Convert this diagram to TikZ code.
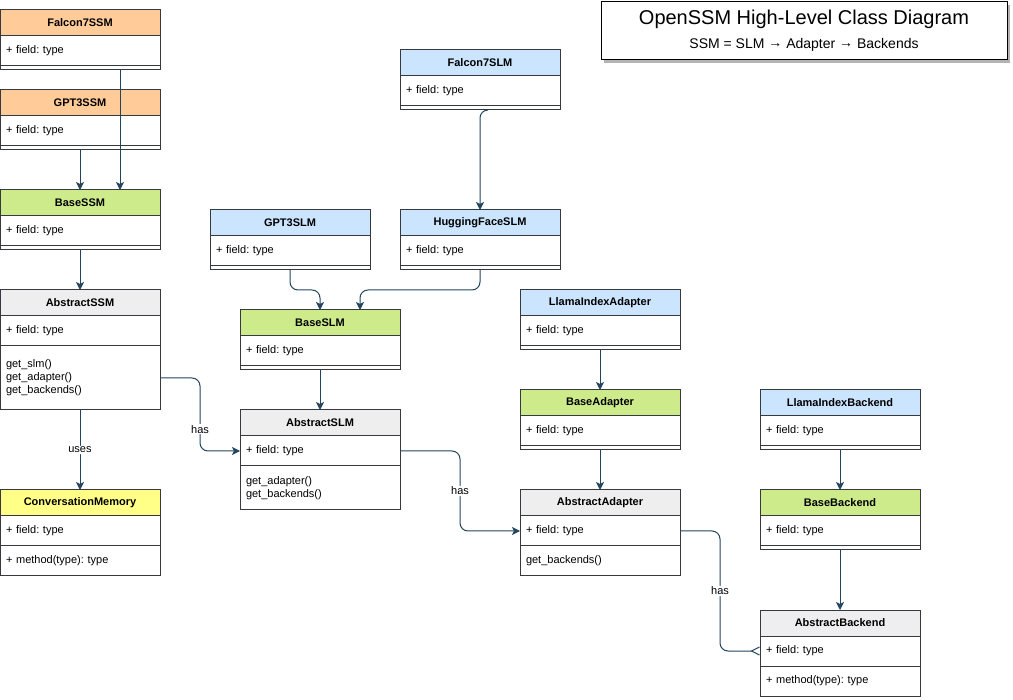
\documentclass[tikz,border=0pt]{standalone}
\usepackage{fontspec}
\setmainfont{Liberation Sans}
\frenchspacing
\usepackage{tikz}
\usetikzlibrary{arrows.meta,shadows}

\definecolor{ssmc}{HTML}{FFCC99}
\definecolor{slmc}{HTML}{CCE5FF}
\definecolor{basec}{HTML}{CDEB8B}
\definecolor{absc}{HTML}{EEEEEE}
\definecolor{memc}{HTML}{FFFF88}
\definecolor{edgec}{HTML}{36393D}
\definecolor{linkc}{HTML}{23445D}

\tikzset{
    classhead/.style={
           rectangle,
           draw=edgec, line width=1pt,
           minimum width=160pt,
           minimum height=26pt,
           inner sep=0pt, outer sep=0pt,
           anchor=north west,
           font=\fontsize{11}{13}\selectfont\bfseries,
           },
    classbody/.style={
           rectangle,
           draw=edgec, line width=1pt,
           fill=white,
           minimum width=160pt,
           text width=148pt,
           inner xsep=6pt, inner ysep=1pt, outer sep=0pt,
           align=left,
           anchor=north west,
           font=\fontsize{11}{13}\selectfont,
           },
    link/.style={
           draw=linkc, line width=1pt,
           rounded corners=8pt,
           -{Stealth[length=8pt,width=8pt,inset=2pt]},
           },
    linklabel/.style={
           fill=white, inner sep=1pt,
           font=\fontsize{11}{13}\selectfont,
           },
}

% class box: name, x, y, header colour, methods, methods height
\newcommand{\umlclass}[6]{
    \node[classhead, fill=#4] (#1) at (#2,#3) {#1};
    \node[classbody, minimum height=30pt] (#1-f) at (#1.south west) {+ field: type};
    \node[classbody, minimum height=#6pt] (#1-m) at (#1-f.south west) {#5};
}
\newcommand{\toarrow}{\raisebox{1pt}{→}}

\begin{document}
\begin{tikzpicture}[x=1pt, y=-1pt]
    \useasboundingbox (0,0) rectangle (1013,700);

    % title
    \node[draw=black, line width=1pt, fill=white,
    minimum width=406pt, minimum height=58pt,
    drop shadow={opacity=0.6, fill=gray, shadow xshift=3pt, shadow yshift=-3pt},
    align=center] (title) at (804,31)
    {{\fontsize{20}{24}\selectfont OpenSSM High-Level Class Diagram}\\[9pt]
     {\fontsize{14}{16}\selectfont SSM = SLM \toarrow{} Adapter \toarrow{} Backends}};

    % SSM column
    \umlclass{Falcon7SSM}{0}{10}{ssmc}{}{4}
    \umlclass{GPT3SSM}{0}{90}{ssmc}{}{4}
    \umlclass{BaseSSM}{0}{190}{basec}{}{4}
    \umlclass{AbstractSSM}{0}{290}{absc}{get\_slm()\\get\_adapter()\\get\_backends()}{64}
    \umlclass{ConversationMemory}{0}{490}{memc}{+ method(type): type}{30}

    % SLM column
    \umlclass{Falcon7SLM}{400}{50}{slmc}{}{4}
    \umlclass{GPT3SLM}{210}{210}{slmc}{}{4}
    \umlclass{HuggingFaceSLM}{400}{210}{slmc}{}{4}
    \umlclass{BaseSLM}{240}{310}{basec}{}{4}
    \umlclass{AbstractSLM}{240}{410}{absc}{get\_adapter()\\get\_backends()}{44}

    % adapters
    \umlclass{LlamaIndexAdapter}{520}{290}{slmc}{}{4}
    \umlclass{BaseAdapter}{520}{390}{basec}{}{4}
    \umlclass{AbstractAdapter}{520}{490}{absc}{get\_backends()}{30}

    % backends
    \umlclass{LlamaIndexBackend}{760}{390}{slmc}{}{4}
    \umlclass{BaseBackend}{760}{490}{basec}{}{4}
    \umlclass{AbstractBackend}{760}{610}{absc}{+ method(type): type}{30}

    % inheritance links
    \draw[link] ([xshift=40pt]Falcon7SSM-m.south) -- ([xshift=40pt]BaseSSM.north);
    \draw[link] (GPT3SSM-m.south) -- (BaseSSM.north);
    \draw[link] (BaseSSM-m.south) -- (AbstractSSM.north);
    \draw[link] ([xshift=7pt]Falcon7SLM-m.south) -| (HuggingFaceSLM.north);
    \draw[link] (GPT3SLM-m.south) -- ++(0,20) -| (BaseSLM.north);
    \draw[link] (HuggingFaceSLM-m.south) -- ++(0,20) -| ([xshift=40pt]BaseSLM.north);
    \draw[link] (BaseSLM-m.south) -- (AbstractSLM.north);
    \draw[link] (LlamaIndexAdapter-m.south) -- (BaseAdapter.north);
    \draw[link] (BaseAdapter-m.south) -- (AbstractAdapter.north);
    \draw[link] (LlamaIndexBackend-m.south) -- (BaseBackend.north);
    \draw[link] (BaseBackend-m.south) -- (AbstractBackend.north);

    % uses / has links
    \draw[link] (AbstractSSM-m.south) -- node[linklabel] {uses} (ConversationMemory.north);
    \draw[link] (AbstractSSM-m.east) -- ++(40,0)
        |- node[linklabel, pos=0.35] {has} (AbstractSLM-f.west);
    \draw[link] (AbstractSLM-f.east) -- ++(60,0)
        |- node[linklabel, pos=0.25] {has} (AbstractAdapter-f.west);
    \draw[link, -{Straight Barb[reversed,length=8pt,width=8pt]}] (AbstractAdapter-f.east) -- ++(40,0)
        |- node[linklabel, pos=0.25] {has} (AbstractBackend-f.west);
\end{tikzpicture}
\end{document}
